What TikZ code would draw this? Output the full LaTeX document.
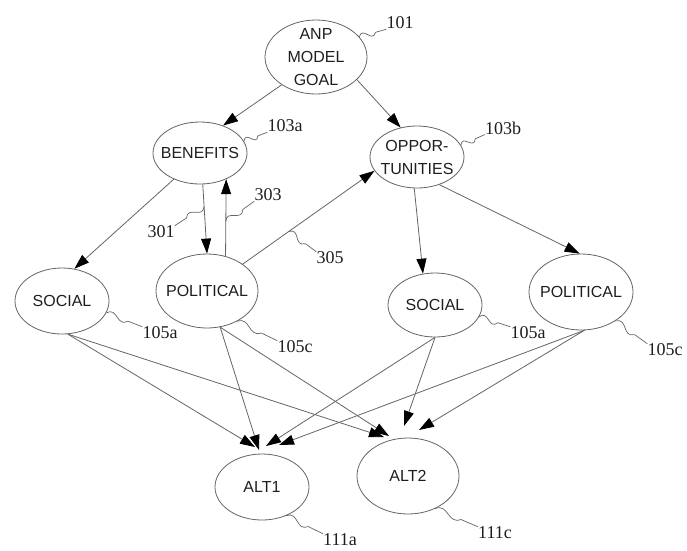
\documentclass[tikz,border=0pt]{standalone}
\usepackage{fontspec}
\setmainfont{Liberation Serif}
\newfontfamily\nodefont{Liberation Sans}
\usetikzlibrary{shapes.geometric,arrows.meta,calc}
\definecolor{linegray}{RGB}{100,100,100}
\definecolor{txtgray}{RGB}{30,30,30}
\tikzset{
  ell/.style={ellipse,draw=linegray,line width=0.8pt,inner sep=0pt},
  txt/.style={anchor=center,inner sep=0pt,text=txtgray,font=\nodefont\fontsize{16}{23}\selectfont,align=center},
  num/.style={inner sep=0pt,text=txtgray,font=\fontsize{18}{20}\selectfont},
  arr/.style={draw=linegray,line width=0.8pt,-{Triangle[length=15pt,width=10pt,color=black]}},
  sq/.style={draw=linegray,line width=0.7pt}
}
\newcommand\squig[2]{\draw[sq] (#1) .. controls ($(#1)!0.22!(#2)!10pt!90:(#2)$) and ($(#1)!0.38!(#2)!10pt!-90:(#2)$) .. ($(#1)!0.6!(#2)$) -- (#2);}
\begin{document}
\begin{tikzpicture}[x=1pt,y=-1pt]
\useasboundingbox (0,0) rectangle (687,550);
% ellipses
\node[ell,minimum width=102pt,minimum height=74pt,label={[txt]center:ANP\\MODEL\\GOAL}] (goal) at (316,57) {};
\node[ell,minimum width=94pt,minimum height=62pt,label={[txt]center:BENEFITS}] (ben) at (200,153) {};
\node[ell,minimum width=94pt,minimum height=62pt,label={[txt]center:OPPOR-\\TUNITIES}] (opp) at (417,157) {};
\node[ell,minimum width=94pt,minimum height=66pt,label={[txt]center:SOCIAL}] (soc1) at (62,301) {};
\node[ell,minimum width=102pt,minimum height=74pt,label={[txt]center:POLITICAL}] (pol1) at (207,291) {};
\node[ell,minimum width=94pt,minimum height=64pt,label={[txt]center:SOCIAL}] (soc2) at (435,305) {};
\node[ell,minimum width=104pt,minimum height=76pt,label={[txt]center:POLITICAL}] (pol2) at (581,292) {};
\node[ell,minimum width=94pt,minimum height=66pt,label={[txt]center:ALT1}] (alt1) at (262,487) {};
\node[ell,minimum width=102pt,minimum height=76pt,label={[txt]center:ALT2}] (alt2) at (408,476) {};
% number labels
\node[num] (l101) at (400,23) {101};
\node[num] (l103a) at (285,126) {103a};
\node[num] (l103b) at (503,128) {103b};
\node[num] (l301) at (161,232) {301};
\node[num] (l303) at (268,195) {303};
\node[num] (l305) at (330,258) {305};
\node[num] (l105a) at (160,333) {105a};
\node[num] (l105c) at (295,347) {105c};
\node[num] (r105a) at (528,333) {105a};
\node[num] (r105c) at (665,350) {105c};
\node[num] (l111a) at (340,540) {111a};
\node[num] (l111c) at (495,533) {111c};
% tip coordinates above the alternatives
\coordinate (a1s1) at (255,447);
\coordinate (a1p1) at (259,450);
\coordinate (a1s2) at (266,446);
\coordinate (a1p2) at (279,445);
\coordinate (a2s1) at (384,437);
\coordinate (a2p1) at (389,436);
\coordinate (a2s2) at (404,426);
\coordinate (a2p2) at (419,430);
% upper connectors
\draw[arr] (goal.219) -- (ben.50);
\draw[arr] (goal.-29) -- (opp.119);
\draw[arr] (ben.225) -- (soc1.69);
\draw[arr] (ben.-85) -- coordinate[pos=0.32] (c301) (pol1.90);
\draw[arr] (pol1.62) -- coordinate[pos=0.45] (c303) (ben.-45);
\draw[arr] (pol1.37) -- coordinate[pos=0.35] (c305) (opp.198);
\draw[arr] (opp.265) -- (soc2.111);
\draw[arr] (opp.-51) -- (pol2.92);
% lower connectors
\draw[arr] (soc1.-80) -- (a1s1);
\draw[arr] (soc1.-80) -- (a2s1);
\draw[arr] (pol1.-70) -- (a1p1);
\draw[arr] (pol1.-70) -- (a2p1);
\draw[arr] (soc2.-90) -- (a1s2);
\draw[arr] (soc2.-90) -- (a2s2);
\draw[arr] (pol2.-85) -- (a1p2);
\draw[arr] (pol2.-85) -- (a2p2);
% squiggles
\squig{goal.25}{l101.south west}
\squig{ben.15}{l103a.south west}
\squig{opp.15}{l103b.south west}
\squig{c301}{l301.north east}
\squig{c303}{l303.south west}
\squig{c305}{l305.north west}
\squig{soc1.-15}{l105a.north west}
\squig{pol1.-45}{l105c.north west}
\squig{soc2.-15}{r105a.north west}
\squig{pol2.-40}{r105c.north west}
\squig{alt1.-50}{l111a.north west}
\squig{alt2.-50}{l111c.north west}
\end{tikzpicture}
\end{document}
